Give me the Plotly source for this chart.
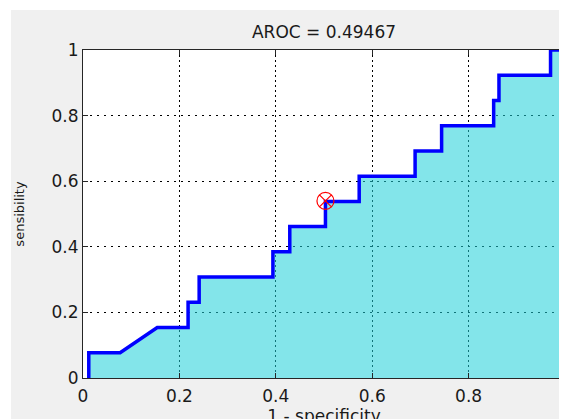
import plotly.graph_objects as go

# ROC curve data (1 - specificity, sensibility)
fpr = [0.012, 0.012, 0.077, 0.154, 0.218, 0.218, 0.241, 0.241, 0.394, 0.394,
       0.429, 0.429, 0.503, 0.503, 0.573, 0.573, 0.689, 0.689, 0.744, 0.744,
       0.852, 0.852, 0.863, 0.863, 0.970, 0.970, 1.0]
tpr = [0.0, 0.077, 0.077, 0.154, 0.154, 0.231, 0.231, 0.308, 0.308, 0.385,
       0.385, 0.462, 0.462, 0.538, 0.538, 0.615, 0.615, 0.692, 0.692, 0.769,
       0.769, 0.846, 0.846, 0.923, 0.923, 1.0, 1.0]

# operating point marker
op_x = [0.503]
op_y = [0.540]

tick_vals = [0, 0.2, 0.4, 0.6, 0.8, 1]
tick_text = ["0", "0.2", "0.4", "0.6", "0.8", "1"]

title_text = "AROC = 0.49467"
x_label = "1 - specificity"
y_label = "sensibility"

FONT = "DejaVu Sans"
GRAY = "#F0F0F0"
TXT = "#1a1a1a"

# page is drawn with an 8px body offset; layout below is in figure pixels
fig = go.Figure()
fig.add_trace(go.Scatter(
    x=fpr, y=tpr, mode="lines",
    line=dict(color="#0000FF", width=3.5),
    fill="tozeroy", fillcolor="rgba(30,208,217,0.55)",
    showlegend=False, hoverinfo="skip",
))
fig.add_trace(go.Scatter(
    x=op_x, y=op_y, mode="markers",
    marker=dict(symbol="circle-x-open", size=17, color="#FF0000",
                line=dict(width=1.2, color="#FF0000")),
    showlegend=False,
))

axis_common = dict(
    range=[0, 1], tickvals=tick_vals, ticktext=tick_text,
    showgrid=True, gridcolor="#000000", gridwidth=1,
    showline=True, linecolor="#262626", linewidth=1, mirror="ticks",
    ticks="inside", ticklen=5, tickcolor="#262626", tickwidth=1,
    zeroline=False, layer="above traces", fixedrange=True,
    tickfont=dict(family=FONT, size=17, color=TXT),
)

fig.update_layout(
    width=567, height=419,
    margin=dict(l=75, r=10, t=42, b=49, autoexpand=False),
    paper_bgcolor=GRAY, plot_bgcolor="#FFFFFF",
    title=dict(text=title_text, x=0.5, xref="paper", xanchor="center",
               y=1 - 24.5 / 419, yref="container", yanchor="middle",
               font=dict(family=FONT, size=17, color=TXT)),
    xaxis=dict(axis_common, griddash="1.5px,3.5px", ticklabelstandoff=3,
               title=dict(text=x_label, standoff=2,
                          font=dict(family=FONT, size=17, color=TXT)),
               automargin=False),
    yaxis=dict(axis_common, griddash="1.5px,5.5px",
               title=dict(text=y_label, standoff=24,
                          font=dict(family=FONT, size=13, color=TXT)),
               automargin=False),
    shapes=[
        dict(type="rect", xref="paper", yref="paper", layer="below",
             x0=-0.3, x1=1.1, y0=(370 - 2) / 328, y1=1.3,
             fillcolor="#FFFFFF", line=dict(width=0)),
        dict(type="rect", xref="paper", yref="paper", layer="below",
             x0=-0.3, x1=(3 - 75) / 482, y0=-0.3, y1=1.3,
             fillcolor="#FFFFFF", line=dict(width=0)),
    ],
)

fig.write_html("out.html")
